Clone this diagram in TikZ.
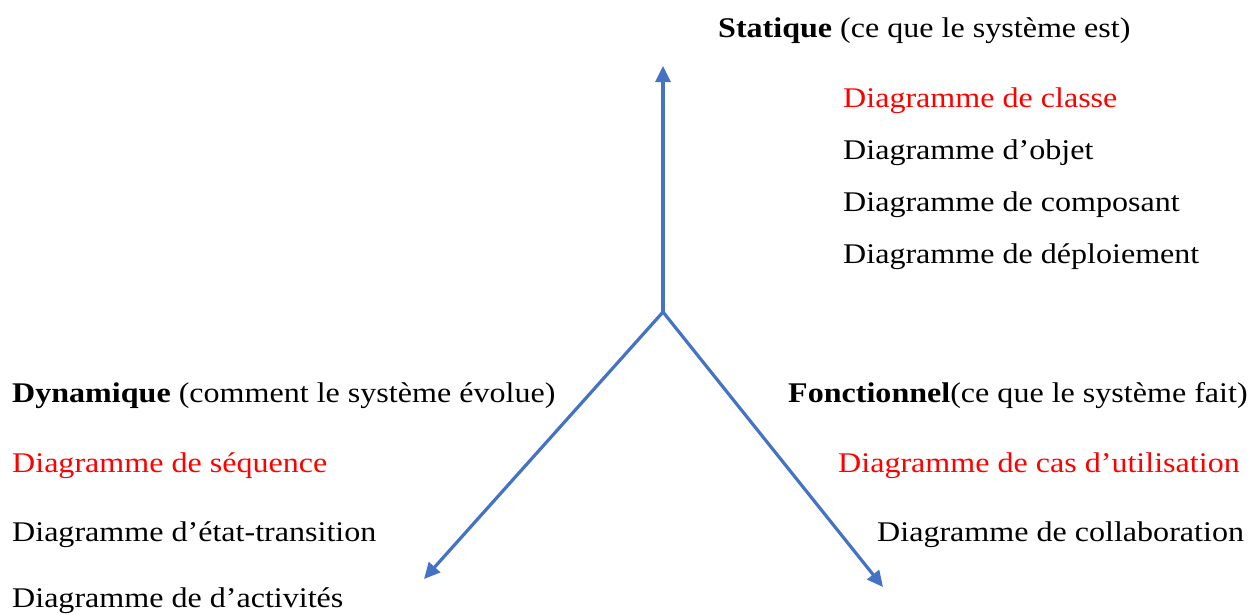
\documentclass[tikz,border=0pt]{standalone}
\usepackage{fontspec}
\setmainfont{Liberation Serif}
\usetikzlibrary{arrows.meta}
\definecolor{axisblue}{RGB}{68,114,196}
\definecolor{keyred}{RGB}{255,0,0}
% labels are set slightly wide
\newcommand{\widetext}[1]{\scalebox{1.125}[1]{#1}}
\tikzset{
  axis/.style={draw=axisblue, line width=3.2pt, -{Triangle[length=16pt,width=15pt]}},
  lbl/.style={anchor=base west, inner sep=0pt, font=\fontsize{28.5}{34}\selectfont},
  key/.style={lbl, text=keyred}
}
\begin{document}
\begin{tikzpicture}[x=1pt,y=-1pt]
\useasboundingbox (0,0) rectangle (1256,614);

% axes from the common origin
\coordinate (o) at (663,312);
\coordinate (up) at (663,66);
\coordinate (dl) at (424,579);
\coordinate (dr) at (883,587);
\draw[axis] (o) -- (up);
\draw[axis] (o) -- (dl);
\draw[axis] (o) -- (dr);

% static view
\node[lbl] (stat) at (718,37) {\widetext{\textbf{Statique} (ce que le système est)}};
\node[key] (s1) at (843,107) {\widetext{Diagramme de classe}};
\node[lbl] (s2) at (843,159) {\widetext{Diagramme d’objet}};
\node[lbl] (s3) at (843,211) {\widetext{Diagramme de composant}};
\node[lbl] (s4) at (843,263) {\widetext{Diagramme de déploiement}};

% dynamic view
\node[lbl] (dyn) at (12,402) {\widetext{\textbf{Dynamique} (comment le système évolue)}};
\node[key] (d1) at (12,472) {\widetext{Diagramme de séquence}};
\node[lbl] (d2) at (12,541) {\widetext{Diagramme d’état-transition}};
\node[lbl] (d3) at (12,607) {\widetext{Diagramme de d’activités}};

% functional view
\node[lbl] (fon) at (788,402) {\widetext{\textbf{Fonctionnel}(ce que le système fait)}};
\node[key] (f1) at (838,472) {\widetext{Diagramme de cas d’utilisation}};
\node[lbl] (f2) at (877,541) {\widetext{Diagramme de collaboration}};
\end{tikzpicture}
\end{document}
